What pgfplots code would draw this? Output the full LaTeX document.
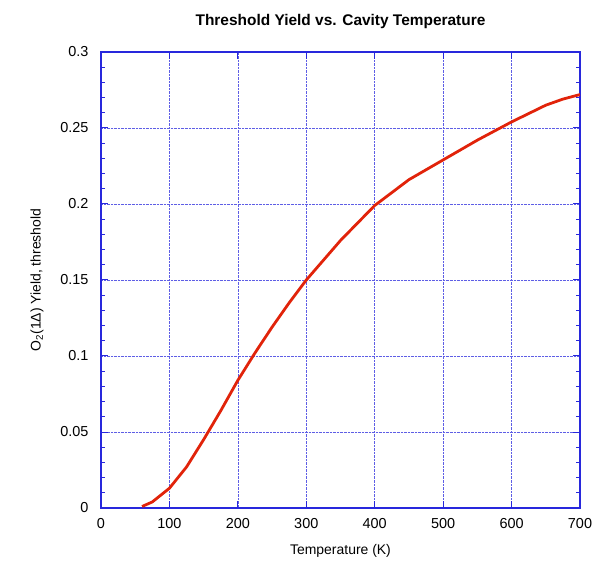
\documentclass[border=0pt]{standalone}
\usepackage{pgfplots}
\pgfplotsset{compat=1.18}
\usepackage{fontspec}
\setmainfont{Liberation Sans}
\definecolor{axblue}{RGB}{40,40,220}
\definecolor{curvered}{RGB}{225,35,10}
\begin{document}
\begin{tikzpicture}[x=1bp,y=1bp]
\useasboundingbox (-101,-56) rectangle (507,508);
\begin{axis}[
  at={(0,0)}, anchor=south west,
  scale only axis, width=479bp, height=456bp,
  xmin=0, xmax=700, ymin=0, ymax=0.3,
  xtick={0,100,...,700},
  ytick={0,0.05,...,0.3},
  minor y tick num=4,
  tick align=inside,
  major tick length=7bp, minor tick length=4bp,
  axis line style={axblue, line width=1.2pt},
  every tick/.style={axblue, line width=1pt},
  grid=major,
  major grid style={axblue!75, densely dotted, line width=0.6pt},
  /pgf/number format/assume math mode=true,
  yticklabel style={/pgf/number format/fixed, /pgf/number format/precision=2, xshift=-9bp},
  xticklabel style={yshift=-7bp},
  ticklabel style={font=\fontsize{14.5}{16}\selectfont},
  xlabel={Temperature (K)},
  ylabel={O\textsubscript{2}(1Δ) Yield, threshold},
  label style={font=\fontsize{14}{16}\selectfont},
  title={\textbf{Threshold Yield vs. Cavity Temperature}},
  title style={font=\fontsize{15.5}{18}\selectfont, yshift=14bp},
  xlabel style={yshift=-9bp},
  ylabel style={yshift=10bp},
]
\addplot[curvered, line width=2.8pt] coordinates {
(60,0.001) (75,0.004) (100,0.013) (125,0.027) (150,0.045) (175,0.064)
(200,0.084) (225,0.102) (250,0.119) (275,0.135) (300,0.150) (350,0.176)
(400,0.199) (450,0.216) (500,0.229) (550,0.242) (600,0.254) (650,0.265)
(675,0.269) (700,0.272)
};
\end{axis}
\end{tikzpicture}
\end{document}
